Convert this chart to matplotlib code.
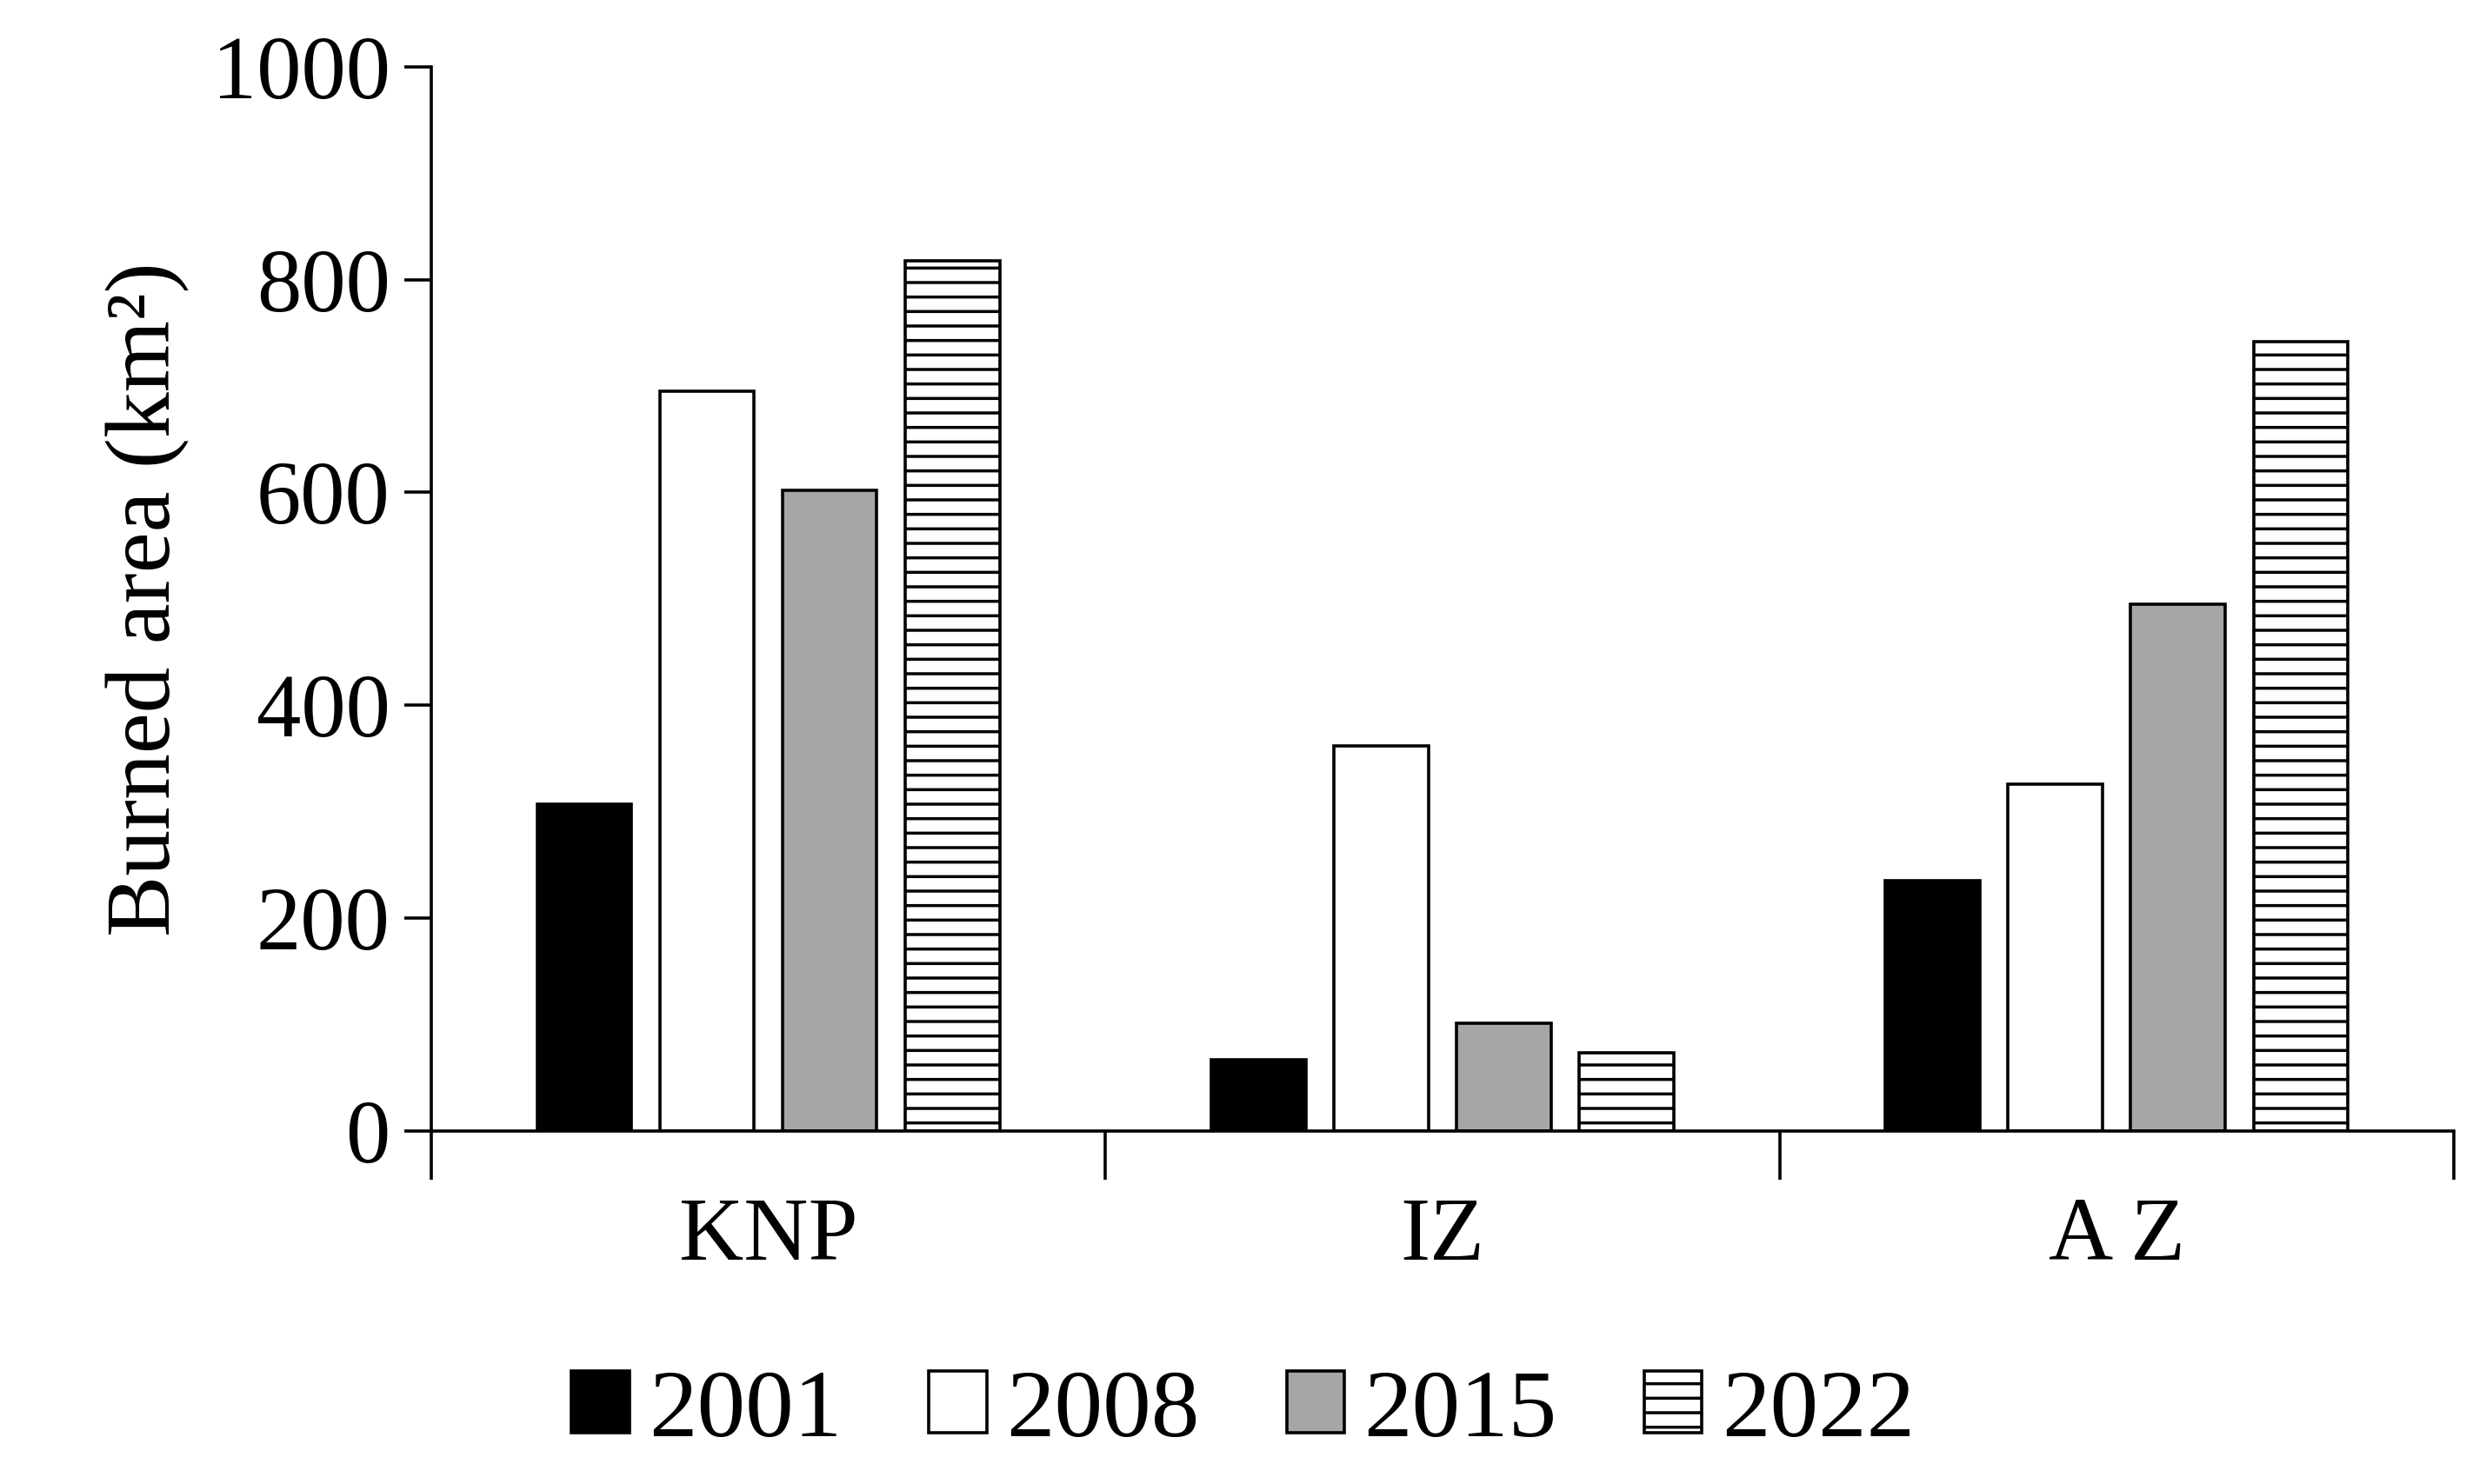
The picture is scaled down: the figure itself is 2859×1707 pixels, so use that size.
import numpy as np
import matplotlib
matplotlib.use('Agg')
import matplotlib.pyplot as plt

plt.rcParams['font.family'] = ['Liberation Serif', 'DejaVu Serif']
plt.rcParams['hatch.linewidth'] = 2.5

sites = ['KNP', 'IZ', 'A Z']
years = ['2001', '2008', '2015', '2022']
v2001 = [307, 67, 235]
v2008 = [695, 362, 326]
v2015 = [602, 101, 495]
v2022 = [818, 73, 742]
series = [v2001, v2008, v2015, v2022]

colors = ['black', 'white', '#a6a6a6', 'white']
hatches = [None, None, None, '-']

fig = plt.figure(figsize=(28.59, 17.07), dpi=100)
ax = fig.add_axes([0.1735, 0.238, 0.8135, 0.717])

x = np.arange(len(sites))
w = 0.14
step = 0.182
for i, vals in enumerate(series):
    ax.bar(x + (i - 1.5) * step, vals, width=w, color=colors[i], edgecolor='black',
           linewidth=2.6, hatch=hatches[i], label=years[i])

ax.set_xlim(-0.5, 2.5)
ax.set_ylim(0, 1000)
ax.set_yticks(np.arange(0, 1001, 200))
ax.set_xticks(x)
ax.set_xticklabels(sites)
ax.set_xticks([-0.5, 0.5, 1.5, 2.5], minor=True)
ax.tick_params(axis='x', which='major', length=0, pad=55, labelsize=74)
ax.tick_params(axis='x', which='minor', length=40, width=2.6, direction='out')
ax.tick_params(axis='y', length=22, width=2.6, direction='out', labelsize=74, pad=12)
for s in ['top', 'right']:
    ax.spines[s].set_visible(False)
for s in ['left', 'bottom']:
    ax.spines[s].set_linewidth(2.6)
ax.set_ylabel('Burned area (km²)', fontsize=76, labelpad=18)

fig.legend(loc='center', bbox_to_anchor=(0.5, 0.048), ncol=4, frameon=False,
           fontsize=80, handlelength=0.6, handleheight=0.6, handletextpad=0.2,
           columnspacing=0.9)
fig.savefig('out.png', dpi=100)
